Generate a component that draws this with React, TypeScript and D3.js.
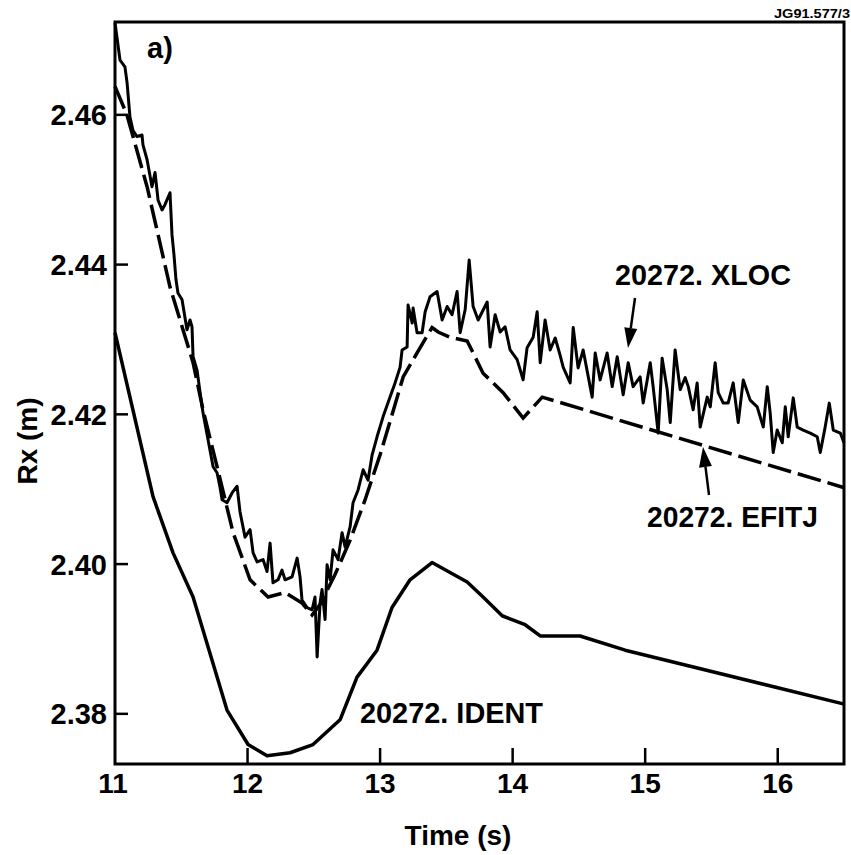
import React from "react";
import * as d3 from "d3";

// ---------- data ----------
const xTicks = [11, 12, 13, 14, 15, 16];
const yTicks = [2.38, 2.40, 2.42, 2.44, 2.46];
const yTickLabels = ["2.38", "2.40", "2.42", "2.44", "2.46"];

const identTime = [11.0, 11.287, 11.438, 11.589, 11.845, 12.004, 12.147, 12.321, 12.494, 12.698, 12.826, 12.977, 13.09, 13.226, 13.392, 13.657, 13.777, 13.921, 14.094, 14.208, 14.509, 14.849, 16.502];
const identRx = [2.4309, 2.409, 2.4015, 2.3956, 2.3805, 2.3759, 2.3744, 2.3748, 2.3759, 2.3792, 2.3849, 2.3885, 2.3942, 2.3979, 2.4002, 2.3976, 2.3956, 2.3931, 2.3919, 2.3904, 2.3904, 2.3885, 2.3813];

const efitTime = [11.0, 11.09, 11.242, 11.415, 11.589, 11.664, 11.77, 11.891, 12.019, 12.155, 12.283, 12.411, 12.487, 12.547, 12.66, 12.774, 12.887, 13.0, 13.113, 13.174, 13.279, 13.392, 13.438, 13.528, 13.657, 13.777, 13.928, 14.079, 14.223, 16.502];
const efitRx = [2.4638, 2.46, 2.4504, 2.437, 2.4269, 2.4206, 2.413, 2.4042, 2.3979, 2.3956, 2.3962, 2.3948, 2.3932, 2.3946, 2.3986, 2.4032, 2.4086, 2.4146, 2.4213, 2.425, 2.4282, 2.4316, 2.431, 2.4303, 2.4298, 2.4255, 2.4229, 2.4195, 2.4223, 2.4102];

const xlocTime = [
  11.0, 11.038, 11.075, 11.091, 11.113, 11.136, 11.166, 11.204, 11.211, 11.242,
  11.279, 11.302, 11.325, 11.355, 11.377, 11.415, 11.43, 11.445, 11.46, 11.475,
  11.506, 11.543, 11.566, 11.581, 11.589, 11.619, 11.642, 11.664, 11.702, 11.74,
  11.77, 11.792, 11.808, 11.845, 11.883, 11.921, 11.943, 11.981, 12.019, 12.042,
  12.072, 12.117, 12.147, 12.17, 12.192, 12.23, 12.26, 12.283, 12.336, 12.374,
  12.396, 12.411, 12.449, 12.487, 12.509, 12.525, 12.547, 12.562, 12.585, 12.6,
  12.623, 12.645, 12.683, 12.713, 12.736, 12.774, 12.796, 12.834, 12.872, 12.909,
  12.94, 12.977, 13.023, 13.075, 13.113, 13.151, 13.166, 13.204, 13.211, 13.242,
  13.249, 13.279, 13.317, 13.34, 13.377, 13.43, 13.468, 13.506, 13.543, 13.581,
  13.604, 13.642, 13.672, 13.702, 13.74, 13.808, 13.83, 13.868, 13.906, 13.943,
  13.981, 14.034, 14.079, 14.109, 14.155, 14.185, 14.208, 14.245, 14.283, 14.321,
  14.358, 14.381, 14.434, 14.457, 14.494, 14.532, 14.6, 14.623, 14.66, 14.713,
  14.751, 14.789, 14.834, 14.872, 14.909, 14.962, 14.985, 15.038, 15.06, 15.098,
  15.128, 15.166, 15.189, 15.226, 15.264, 15.302, 15.325, 15.362, 15.392, 15.415,
  15.468, 15.491, 15.528, 15.551, 15.589, 15.626, 15.664, 15.702, 15.74, 15.792,
  15.845, 15.891, 15.921, 15.943, 15.966, 15.996, 16.034, 16.057, 16.079, 16.117,
  16.147, 16.192, 16.245, 16.298, 16.321, 16.358, 16.389, 16.419, 16.472, 16.5
];
const xlocRx = [
  2.4723, 2.4673, 2.4664, 2.4643, 2.4597, 2.4579, 2.4571, 2.4573, 2.456, 2.454,
  2.4504, 2.4523, 2.4486, 2.4473, 2.448, 2.4496, 2.444, 2.4413, 2.438, 2.4362,
  2.4353, 2.4313, 2.4326, 2.4317, 2.4277, 2.4259, 2.4229, 2.4202, 2.4166, 2.413,
  2.4122, 2.4103, 2.4086, 2.4082, 2.4095, 2.4104, 2.407, 2.4036, 2.4046, 2.4015,
  2.4003, 2.4006, 2.399, 2.4028, 2.3975, 2.3979, 2.3992, 2.3979, 2.3983, 2.4008,
  2.3983, 2.3952, 2.3942, 2.3939, 2.3956, 2.3876, 2.3948, 2.3966, 2.3926, 2.3999,
  2.3979, 2.4019, 2.4006, 2.4042, 2.4023, 2.405, 2.4082, 2.4099, 2.4126, 2.4112,
  2.4146, 2.417, 2.4197, 2.4223, 2.4242, 2.4263, 2.4286, 2.429, 2.4346, 2.4322,
  2.4342, 2.4309, 2.4309, 2.4337, 2.4357, 2.4364, 2.4326, 2.4344, 2.4333, 2.4364,
  2.4309, 2.434, 2.4406, 2.4344, 2.4326, 2.435, 2.429, 2.4333, 2.431, 2.4317,
  2.4286, 2.4273, 2.4246, 2.4289, 2.4303, 2.4337, 2.4269, 2.4326, 2.4286, 2.4302,
  2.4279, 2.4263, 2.4242, 2.4316, 2.4262, 2.4286, 2.4223, 2.4282, 2.4246, 2.4282,
  2.4237, 2.4277, 2.4226, 2.4269, 2.4237, 2.425, 2.4215, 2.4269, 2.4237, 2.4175,
  2.4275, 2.4233, 2.4189, 2.4286, 2.4233, 2.4249, 2.4237, 2.4206, 2.4242, 2.4183,
  2.4223, 2.421, 2.4269, 2.4229, 2.4215, 2.4215, 2.4242, 2.4189, 2.4246, 2.4219,
  2.421, 2.4183, 2.4237, 2.4202, 2.4149, 2.4179, 2.4162, 2.421, 2.417, 2.4222,
  2.4183, 2.4179, 2.4175, 2.417, 2.4149, 2.4183, 2.4215, 2.4179, 2.4175, 2.4162
];

const FONT = "'Liberation Sans', Arial, Helvetica, sans-serif";

export default function App() {
  const W = 851, H = 855;
  const left = 115, right = 844, top = 22, bottom = 764;
  const x = d3.scaleLinear().domain([11, 16.5]).range([left, right]);
  const y = d3.scaleLinear().domain([2.3733, 2.4724]).range([bottom, top]);

  const line = (ts: number[], vs: number[]) =>
    d3.line<number>().x((_, i) => x(ts[i])).y((_, i) => y(vs[i]))(ts) || "";

  const identPath = line(identTime, identRx);
  const efitPath = line(efitTime, efitRx);
  const xlocPath = line(xlocTime, xlocRx);

  const arrow = (x1: number, y1: number, x2: number, y2: number) => {
    const ang = Math.atan2(y2 - y1, x2 - x1);
    const hl = 20, hw = 6.5;
    const bx = x2 - hl * Math.cos(ang), by = y2 - hl * Math.sin(ang);
    const px = -Math.sin(ang) * hw, py = Math.cos(ang) * hw;
    return (
      <g>
        <line x1={x1} y1={y1} x2={bx} y2={by} stroke="#000" strokeWidth={2.5} />
        <path d={`M${x2},${y2}L${bx + px},${by + py}L${bx - px},${by - py}Z`} fill="#000" />
      </g>
    );
  };

  return (
    <svg width={W} height={H} style={{ position: "absolute", left: 0, top: 0, background: "#fff" }} fontFamily={FONT}>
      <rect x={0} y={0} width={W} height={H} fill="#fff" />
      {/* data lines */}
      <path d={identPath} fill="none" stroke="#000" strokeWidth={3.5} strokeLinejoin="round" />
      <path d={efitPath} fill="none" stroke="#000" strokeWidth={3.5} strokeDasharray="24 7" />
      <path d={xlocPath} fill="none" stroke="#000" strokeWidth={3} strokeLinejoin="round" />

      {/* frame */}
      <rect x={left} y={top} width={right - left} height={bottom - top} fill="none" stroke="#000" strokeWidth={3} />

      {/* y ticks */}
      {yTicks.map((v, i) => (
        <g key={"y" + i}>
          <line x1={left} x2={left + 13} y1={y(v)} y2={y(v)} stroke="#000" strokeWidth={2.5} />
          <text x={107} y={y(v)} dy="0.36em" textAnchor="end" fontSize={29} fontWeight="bold">{yTickLabels[i]}</text>
        </g>
      ))}
      {/* x ticks */}
      {xTicks.map((v) => (
        <g key={"x" + v}>
          {v > 11 && <line x1={x(v)} x2={x(v)} y1={bottom} y2={bottom - 16} stroke="#000" strokeWidth={2.5} />}
          <text x={x(v) - (v === 11 ? 2 : 0)} y={793} textAnchor="middle" fontSize={28} fontWeight="bold">{v}</text>
        </g>
      ))}

      {/* axis titles */}
      <text x={458} y={845} textAnchor="middle" fontSize={28} fontWeight="bold">Time (s)</text>
      <text transform="translate(37,441) rotate(-90)" textAnchor="middle" fontSize={28} fontWeight="bold">Rx (m)</text>

      {/* annotations */}
      <text x={147} y={58} fontSize={29} fontWeight="bold">a)</text>
      <text x={850} y={18} textAnchor="end" fontSize={12} fontWeight="bold" textLength={76} lengthAdjust="spacingAndGlyphs">JG91.577/3</text>
      <text x={615} y={285} fontSize={30} fontWeight="bold" textLength={176} lengthAdjust="spacingAndGlyphs">20272. XLOC</text>
      <text x={647} y={527} fontSize={29} fontWeight="bold" textLength={171} lengthAdjust="spacingAndGlyphs">20272. EFITJ</text>
      <text x={360} y={723} fontSize={29} fontWeight="bold" textLength={183} lengthAdjust="spacingAndGlyphs">20272. IDENT</text>
      {arrow(635, 298, 628, 348)}
      {arrow(709, 495, 703, 447)}
    </svg>
  );
}
